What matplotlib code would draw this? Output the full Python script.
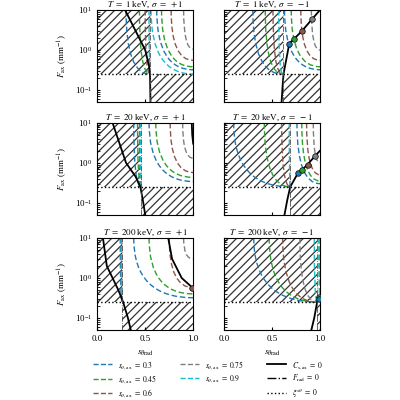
import matplotlib
matplotlib.use('Agg')
import matplotlib.pyplot as plt
from matplotlib.path import Path
from matplotlib.patches import PathPatch, Rectangle
from matplotlib.lines import Line2D

plt.rcParams['font.family'] = 'Liberation Serif'
plt.rcParams['mathtext.fontset'] = 'stix'
plt.rcParams['font.size'] = 6
plt.rcParams['hatch.linewidth'] = 0.9

s_ax = [0.3, 0.45, 0.6, 0.75, 0.9]
colors = ['#1f77b4', '#2ca02c', '#8c564b', '#7f7f7f', '#17becf']
titles = [r'$T\ =\ 1$ keV, $\sigma\ =\ +1$', r'$T\ =\ 1$ keV, $\sigma\ =\ -1$',
          r'$T\ =\ 20$ keV, $\sigma\ =\ +1$', r'$T\ =\ 20$ keV, $\sigma\ =\ -1$',
          r'$T\ =\ 200$ keV, $\sigma\ =\ +1$', r'$T\ =\ 200$ keV, $\sigma\ =\ -1$']
F_xi = 0.25
# boundary F_rad = 0 for each panel
b_rad = [0.55, 0.61, 0.46, 0.69, 0.26, 0.97]
# left branches: x where the curve leaves the top of the axes (None = not drawn)
left_top = [[0.30, 0.44, 0.50, None, 0.54],
            [0.30, 0.43, 0.51, None, 0.57],
            [0.38, 0.42, 0.44, None, 0.45],
            [0.10, 0.42, 0.60, None, 0.68],
            [0.24, None, 0.255, None, 0.25],
            [0.31, 0.47, 0.61, 0.79, 0.94]]
# right branches: vertical asymptote x and value at s=1
right_top = [[0.62, 0.67, 0.77, 0.90, 0.56],
             [0.63, 0.70, 0.80, 0.91, None],
             [0.54, 0.61, 0.76, 0.89, None],
             [0.76, 0.81, 0.86, 0.93, None],
             [0.38, 0.54, 0.75, 0.90, None],
             [None, 0.99, None, None, 0.99]]
right_end = [[0.32, 0.38, 0.55, 1.05, 0.25],
             [0.32, 0.38, 0.55, 1.0, None],
             [0.34, 0.43, 0.57, 1.3, None],
             [0.30, 0.35, 0.50, 1.0, None],
             [0.32, 0.40, 0.57, 3.0, None],
             [None, 0.30, None, None, 0.32]]
# C_s,ax = 0 curves
cs_x = [[[0.29, 0.40, 0.50, 0.54, 0.55, 0.555]],
        [[0.60, 0.61, 0.62, 0.68, 0.73, 0.81, 0.92, 1.0]],
        [[0.16, 0.30, 0.40, 0.45, 0.48, 0.50], [0.985, 0.99, 1.0]],
        [[0.63, 0.66, 0.69, 0.77, 0.81, 0.87, 0.95, 1.0]],
        [[0.06, 0.10, 0.22, 0.27, 0.32, 0.35], [0.74, 0.78, 0.88, 1.0]],
        [[0.91, 0.94, 0.97, 1.0]]]
cs_F = [[[10, 3.0, 1.0, 0.4, 0.26, 0.05]],
        [[0.05, 0.12, 0.25, 1.45, 1.9, 2.95, 6.0, 10]],
        [[10, 1.0, 0.45, 0.25, 0.1, 0.05], [10, 5, 3]],
        [[0.05, 0.12, 0.25, 0.55, 0.66, 0.9, 1.5, 2.0]],
        [[10, 2.0, 0.5, 0.25, 0.1, 0.05], [10, 3.0, 1.0, 0.55]],
        [[0.05, 0.1, 0.25, 0.35]]]
# markers where curves meet C_s,ax = 0
mk_x = [[], [0.68, 0.73, 0.81, 0.92], [], [0.77, 0.81, 0.87, 0.95], [None, None, 0.99], [0.99, 0.99]]
mk_F = [[], [1.45, 1.9, 2.95, 6.0], [], [0.55, 0.66, 0.9, 1.5], [None, None, 0.55], [0.33, 0.30]]


def bez(ax, p0, p1, p2, c):
    path = Path([p0, p1, p2], [Path.MOVETO, Path.CURVE3, Path.CURVE3])
    ax.add_patch(PathPatch(path, fc='none', ec=c, lw=1.0, ls=(0, (4, 2))))


fig = plt.figure(figsize=(4, 4), dpi=100)
lefts = [0.243, 0.56]
bottoms = [0.745, 0.463, 0.175]
w, h = 0.24, 0.23
for k in range(6):
    r, c = divmod(k, 2)
    ax = fig.add_axes([lefts[c], bottoms[r], w, h])
    ax.set_yscale('log')
    ax.set_xlim(0, 1)
    ax.set_ylim(0.05, 10)
    b = b_rad[k]
    ax.add_patch(Rectangle((0, F_xi), b, 10 - F_xi, fill=False, hatch='////', ec='0.2', lw=0))
    ax.add_patch(Rectangle((b, 0.05), 1 - b, F_xi - 0.05, fill=False, hatch='////', ec='0.2', lw=0))
    for i in range(5):
        x0 = left_top[k][i]
        if x0 is not None:
            bez(ax, (x0, 10), (x0, F_xi), (b, F_xi), colors[i])
        xa = right_top[k][i]
        if xa is not None:
            fe = right_end[k][i]
            bez(ax, (xa, 10), (xa, fe), (1.0, fe), colors[i])
    for xs, Fs in zip(cs_x[k], cs_F[k]):
        ax.plot(xs, Fs, color='k', lw=1.3)
    ax.axhline(F_xi, color='k', ls=':', lw=1.0)
    ax.axvline(b, color='0.3', ls='-.', lw=0.6)
    for i, (mx, mf) in enumerate(zip(mk_x[k], mk_F[k])):
        if mx is not None:
            ci = i if k != 5 else [1, 0][i]
            ax.plot(mx, mf, 'o', ms=4, mfc=colors[ci], mec='k', mew=0.5, zorder=5)
    ax.set_title(titles[k], fontsize=6.5, pad=2)
    ax.tick_params(direction='in', which='both', length=2, labelsize=6.5)
    ax.set_xticks([0, 0.5, 1.0])
    if c == 0:
        ax.set_ylabel(r'$F_{\rm ax}$ (mm$^{-1}$)', fontsize=6.5)
    else:
        ax.tick_params(which='both', labelleft=False)
    if r < 2:
        ax.set_xticklabels([])
    else:
        ax.set_xticklabels(['0.0', '0.5', '1.0'])
        ax.set_xlabel(r'$s_{\theta\mathrm{rad}}$', fontsize=6.5)

handles = [Line2D([], [], color=colors[i], ls='--', lw=1.0) for i in range(5)]
labels = [r'$s_{\theta,\rm ax}\ =\ %s$' % v for v in s_ax]
handles += [Line2D([], [], color='k', lw=1.3), Line2D([], [], color='k', ls='-.', lw=1.0),
            Line2D([], [], color='k', ls=':', lw=1.0)]
labels += [r'$C_{\rm s,ax}\ =\ 0$', r'$F_{\rm rad}\ =\ 0$', r'$\xi^{s\theta}\ =\ 0$']
fig.legend(handles[:5] + [Line2D([], [], alpha=0)] + handles[5:],
           labels[:5] + [''] + labels[5:],
           loc='upper center', bbox_to_anchor=(0.52, 0.12), ncol=3, frameon=False,
           fontsize=5.5, handlelength=2.5, columnspacing=3, labelspacing=0.3)
fig.savefig('out.png', dpi=100)
